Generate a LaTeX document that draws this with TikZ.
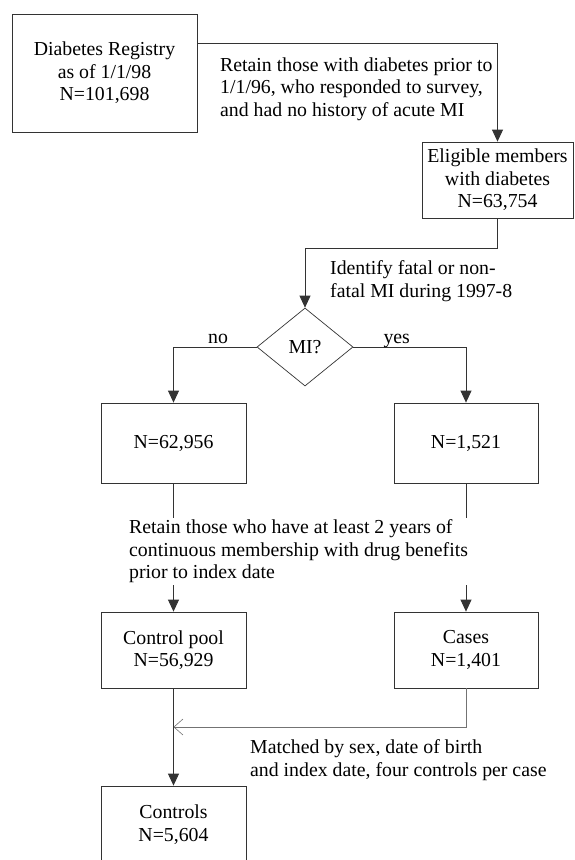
\documentclass[tikz,border=0pt]{standalone}
\usepackage{fontspec}
\setmainfont{Liberation Serif}
\usetikzlibrary{arrows.meta,shapes.geometric}

\begin{document}
\begin{tikzpicture}[x=1pt,y=-1pt,font=\fontsize{19.8}{22.5}\selectfont,
 box/.style={draw=black!80,line width=0.8pt,align=center,inner sep=0pt},
 txt/.style={align=left,inner sep=0pt,anchor=north west},
 flow/.style={draw=black!80,line width=0.8pt,-{Triangle[width=11pt,length=12pt]}},
 match/.style={line width=0.6pt,black!55,-{Straight Barb[length=9pt,width=16pt]}}]
\useasboundingbox (0,0) rectangle (575,860);
\clip (0,0) rectangle (575,860);
\node[box,minimum width=185,minimum height=118] (reg) at (104.5,73) {Diabetes Registry\\as of 1/1/98\\N=101,698};
\node[box,minimum width=151,minimum height=76] (elig) at (497.5,180) {Eligible members\\with diabetes\\N=63,754};
\node[draw=black!80,diamond,line width=0.7pt,minimum width=96,minimum height=78,inner sep=0pt] (mi) at (305,347) {MI?};
\node[box,minimum width=145,minimum height=80] (nomi) at (173.5,443) {N=62,956};
\node[box,minimum width=144,minimum height=80] (yesmi) at (466,443) {N=1,521};
\node[box,minimum width=145,minimum height=76] (pool) at (173.5,650) {Control pool\\N=56,929};
\node[box,minimum width=144,minimum height=76] (cases) at (466,650) {Cases\\N=1,401};
\node[box,minimum width=145,minimum height=77] (ctrl) at (173.5,824.5) {Controls\\N=5,604};
\coordinate (hit) at (pool.south |- 0,727);
\draw[flow] ([yshift=30pt]reg.east) -| (elig.north);
\draw[flow] (elig.south) -- ++(0,30) -| (mi.north);
\draw[flow] (mi.west) -| (nomi.north);
\draw[flow] (mi.east) -| (yesmi.north);
\draw[flow] (nomi) -- (pool);
\draw[flow] (yesmi) -- (cases);
\draw[flow] (pool) -- (ctrl);
\draw[match] (cases.south) |- (hit);
\node[txt] (keep) at (220,57.5) {Retain those with diabetes prior to\\1/1/96, who responded to survey,\\and had no history of acute MI};
\node[txt] (find) at (330,260.5) {Identify fatal or non-\\fatal MI during 1997-8};
\node[anchor=base] (no) at (218,343) {no};
\node[anchor=base west] (yes) at (380,343) {yes};
\node[txt,fill=white,inner sep=2pt] (enrol) at (127,517.5) {Retain those who have at least 2 years of\\continuous membership with drug benefits\\prior to index date};
\node[txt] (how) at (250,739.5) {Matched by sex, date of birth\\and index date, four controls per case};
\end{tikzpicture}
\end{document}
